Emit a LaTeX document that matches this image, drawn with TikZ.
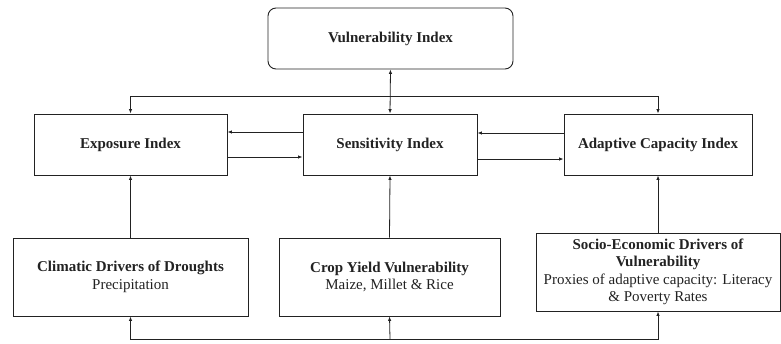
\documentclass[tikz,border=0pt]{standalone}
\usepackage{fontspec}
\setmainfont{Liberation Serif}
\usetikzlibrary{arrows.meta}
\definecolor{ink}{HTML}{222222}
\begin{document}
\begin{tikzpicture}[x=1pt,y=-1pt,
  box/.style={draw=ink,line width=0.9pt,rectangle,inner sep=2pt,align=center,text=ink,
    font=\fontsize{15}{17.5}\selectfont},
  conn/.style={draw=ink,line width=0.8pt,-{Latex[length=4.5pt,width=3.5pt]}}]
\useasboundingbox (0,0) rectangle (781,343);
\node[box,rounded corners=8pt,minimum width=245pt,minimum height=61pt] (vuln) at (390.5,38.5) {\textbf{Vulnerability Index}};
\node[box,minimum width=193pt,minimum height=61pt] (expo) at (130.5,144.5) {\textbf{Exposure Index}};
\node[box,minimum width=174pt,minimum height=61pt] (sens) at (390,144.5) {\textbf{Sensitivity Index}};
\node[box,minimum width=188pt,minimum height=61pt] (adap) at (658,144.5) {\textbf{Adaptive Capacity Index}};
\node[box,minimum width=235pt,minimum height=78pt] (clim) at (130.5,277) {\textbf{Climatic Drivers of Droughts}\\Precipitation};
\node[box,minimum width=221pt,minimum height=78pt] (crop) at (389.5,277) {\textbf{Crop Yield Vulnerability}\\Maize, Millet \& Rice};
\node[box,minimum width=244pt,minimum height=78pt] (socio) at (658,272) {\textbf{Socio-Economic Drivers of}\\\textbf{Vulnerability}\\Proxies of adaptive capacity: Literacy\\\& Poverty Rates};
\coordinate (top) at (390,96);
\coordinate (bot) at (390,339);
% top links
\draw[conn,{Latex[length=4.5pt,width=3.5pt]}-{Latex[length=4.5pt,width=3.5pt]}] (vuln.south) -- (sens.north);
\draw[conn] (top) -| (expo.north);
\draw[conn] (top) -| (adap.north);
% horizontal links
\draw[conn] ([yshift=12.5pt]sens.west) -- ([yshift=12.5pt]expo.east);
\draw[conn] ([yshift=-12.5pt]expo.east) -- ([yshift=-12.5pt]sens.west);
\draw[conn] ([yshift=11.5pt]adap.west) -- ([yshift=11.5pt]sens.east);
\draw[conn] ([yshift=-14.5pt]sens.east) -- ([yshift=-14.5pt]adap.west);
% vertical links
\draw[conn] (clim.north) -- (expo.south);
\draw[conn] (crop.north) -- (sens.south);
\draw[conn] (socio.north) -- (adap.south);
% bottom links
\draw[conn] (bot) -| (clim.south);
\draw[conn] (bot) -- (crop.south);
\draw[conn] (bot) -| (socio.south);
\end{tikzpicture}
\end{document}
